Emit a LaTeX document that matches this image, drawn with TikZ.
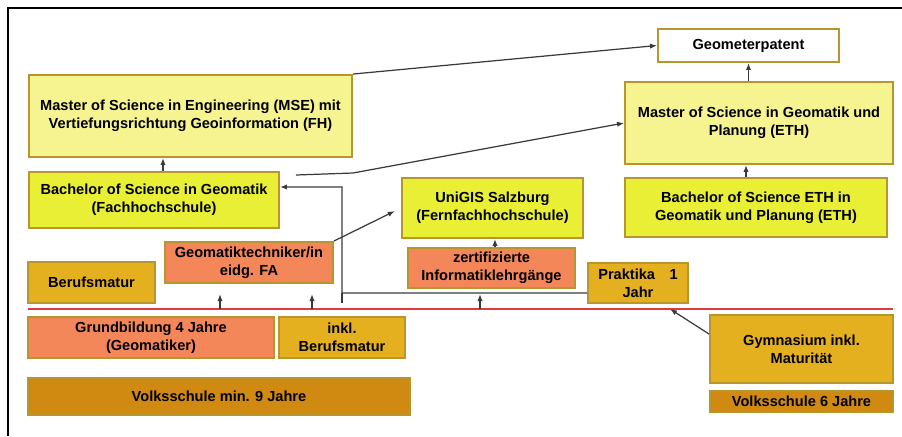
\documentclass[tikz,border=0pt]{standalone}
\usepackage{fontspec}
\setmainfont{Liberation Sans}
\usepackage{xcolor}
\usepackage{tikz}
\usetikzlibrary{calc, positioning, arrows.meta}

\definecolor{paleyel}{HTML}{F6F391}
\definecolor{limeyel}{HTML}{E8EF35}
\definecolor{salmon}{HTML}{F4875A}
\definecolor{golden}{HTML}{E5B020}
\definecolor{ochre}{HTML}{D08A12}
\definecolor{rim}{HTML}{B8962E}
\definecolor{redline}{HTML}{E5383C}
\definecolor{wire}{HTML}{3A3A3A}

\begin{document}
\begin{tikzpicture}[x=0.02cm, y=-0.02cm,
    every node/.style={font=\fontsize{8.3}{10}\selectfont\bfseries, inner sep=0pt, align=center},
    box/.style={draw=rim, line width=1.1pt, minimum width=#1},
    arr/.style={-{Latex[length=4pt,width=3pt]}, draw=wire, line width=0.7pt}]
    \useasboundingbox (0,0) rectangle (902,436);
    % frame
    \draw[line width=1.2pt] (8,436) -- (8,8) -- (902,8);

    % upper levels
    \node[box=3.62cm, minimum height=0.66cm, fill=white] (geo) at (748.5,45.5) {Geometerpatent};
    \node[box=6.46cm, minimum height=1.64cm, fill=paleyel] (mse) at (190.5,116) {Master of Science in Engineering (MSE) mit\\Vertiefungsrichtung Geoinformation (FH)};
    \node[box=5.36cm, minimum height=1.64cm, fill=paleyel] (meth) at (759,123) {Master of Science in Geomatik und\\Planung (ETH)};
    \node[box=5.00cm, minimum height=1.12cm, fill=limeyel] (bfh) at (154,200) {Bachelor of Science in Geomatik\\(Fachhochschule)};
    \node[box=3.62cm, minimum height=1.20cm, fill=limeyel] (unigis) at (492.5,208) {UniGIS Salzburg\\(Fernfachhochschule)};
    \node[box=5.24cm, minimum height=1.18cm, fill=limeyel] (beth) at (756,207.5) {Bachelor of Science ETH in\\Geomatik und Planung (ETH)};

    % middle levels
    \node[box=3.36cm, minimum height=0.82cm, fill=salmon] (geomtech) at (249,262.5) {Geomatiktechniker/in\\eidg. FA};
    \node[box=2.54cm, minimum height=0.82cm, fill=golden] (bms) at (91.5,282.5) {Berufsmatur};
    \node[box=3.34cm, minimum height=0.80cm, fill=salmon] (zert) at (491.5,268) {zertifizierte\\Informatiklehrgänge};
    \node[box=2.00cm, minimum height=0.80cm, fill=golden] (prakt) at (638,283) {Praktika\quad1\\Jahr};

    \draw[redline, line width=1.5pt] (28,309) -- (893,309);

    % lower levels
    \node[box=4.92cm, minimum height=0.82cm, fill=salmon] (grund) at (151,337.5) {Grundbildung 4 Jahre\\(Geomatiker)};
    \node[box=2.52cm, minimum height=0.82cm, fill=golden] (inkl) at (342,337.5) {inkl.\\Berufsmatur};
    \node[box=7.64cm, minimum height=0.74cm, fill=ochre] (vs9) at (219,396.5) {Volksschule min. 9 Jahre};
    \node[box=3.66cm, minimum height=1.36cm, fill=golden] (gym) at (801.5,349) {Gymnasium inkl.\\Maturität};
    \node[box=3.66cm, minimum height=0.42cm, fill=ochre] (vs6) at (801.5,401.5) {Volksschule 6 Jahre};

    % connectors
    \draw[arr] (mse.north east) -- (geo.west);
    \draw[arr] (geo.south |- meth.north) -- (geo.south);
    \draw[arr] ([xshift=-0.2cm]beth.north) -- ([xshift=-0.2cm]beth.north |- meth.south);
    \draw[arr] ([xshift=0.18cm]bfh.north) -- ([xshift=0.18cm]bfh.north |- mse.south);
    \coordinate (bend) at (296,175);
    \draw[arr] (bend) -- (353,173) -- (meth.west);
    \coordinate (jn) at (342,293);
    \draw[arr] ([yshift=-0.2cm]prakt.west) -- (jn) -- (342,187) -- ([yshift=0.26cm]bfh.east);
    \draw[line width=0.7pt, draw=wire] (jn) -- (342,303);
    \draw[arr, shorten >=4pt] (geomtech.north east) -- (unigis.west);
    \draw[arr] ([xshift=0.07cm]zert.north) -- ([xshift=0.07cm]zert.north |- unigis.south);
    \foreach \x in {220,312,480} {
        \draw[arr] (\x,309) -- (\x,294);
    }
    \draw[arr] ([yshift=-0.4cm]gym.north west) -- ([xshift=0.64cm,yshift=-0.1cm]prakt.south);
\end{tikzpicture}
\end{document}
